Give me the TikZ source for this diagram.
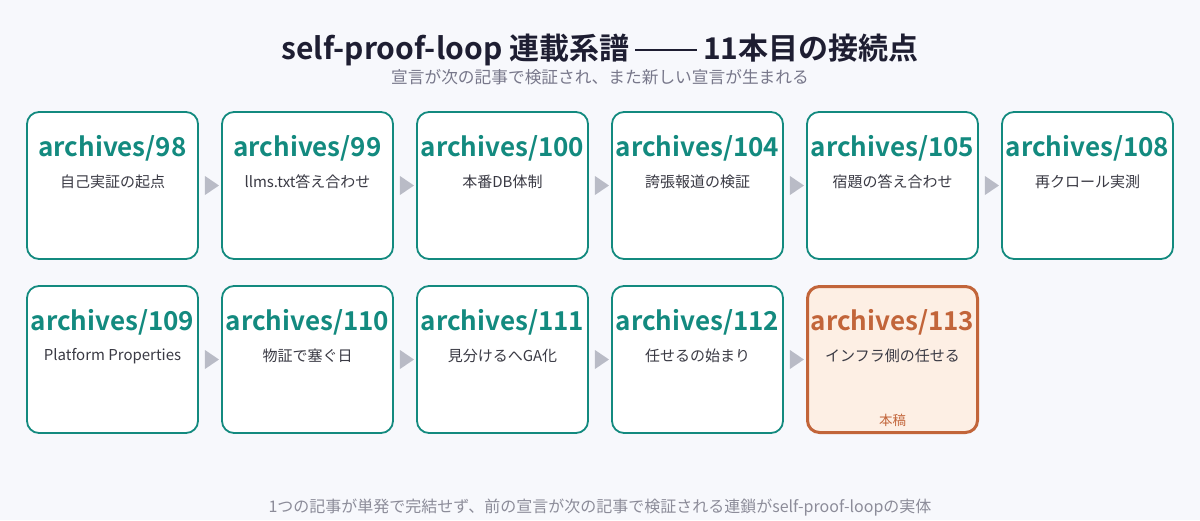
\documentclass[tikz,border=0pt]{standalone}
\usepackage{fontspec}
\setmainfont{Noto Sans CJK JP}[BoldFont={Noto Sans CJK JP Bold}]
\usetikzlibrary{shapes.geometric}
\definecolor{bg}{HTML}{F7F8FC}
\definecolor{teal}{HTML}{138A7F}
\definecolor{hot}{HTML}{C2653A}
\definecolor{hotfill}{HTML}{FDEFE4}
\definecolor{arrowgray}{HTML}{B9BBC6}
\definecolor{titlec}{HTML}{1E1E32}
\definecolor{subc}{HTML}{77778A}
\definecolor{bodyc}{HTML}{3A3A44}
\definecolor{footc}{HTML}{8C8C99}
\tikzset{
  card/.style={draw=teal, line width=1.8pt, fill=white, rounded corners=12pt, minimum width=171pt, minimum height=147pt, inner sep=0pt},
  hotcard/.style={card, draw=hot, line width=3pt, fill=hotfill, minimum width=170pt, minimum height=146pt},
  cardtitle/.style={font=\bfseries\fontsize{26}{30}\selectfont, text=teal, inner sep=0pt},
  hottitle/.style={cardtitle, text=hot},
  cardsub/.style={font=\fontsize{15}{18}\selectfont, text=bodyc, inner sep=0pt},
  tag/.style={font=\fontsize{13.5}{16}\selectfont, text=hot, inner sep=0pt},
  tri/.style={isosceles triangle, isosceles triangle apex angle=70, isosceles triangle stretches, fill=arrowgray, draw=none, inner sep=0pt, minimum height=14pt, minimum width=19pt, shape border rotate=0}
}
\begin{document}
\begin{tikzpicture}[x=1pt,y=-1pt]
\fill[bg] (0,0) rectangle (1200,520);
\useasboundingbox (0,0) rectangle (1200,520);
\node[font=\bfseries\fontsize{30}{34}\selectfont, text=titlec, inner sep=0pt] (title) at (600,50) {self-proof-loop 連載系譜\hspace{6pt}\raisebox{9pt}{\rule{62pt}{1.4pt}}\hspace{6pt}11本目の接続点};
\node[font=\fontsize{16.7}{20}\selectfont, text=subc, inner sep=0pt] (subtitle) at (600,77) {宣言が次の記事で検証され、また新しい宣言が生まれる};
% row 1
\foreach \i/\x/\num/\sub in {1/112.5/98/自己実証の起点, 2/307.5/99/llms.txt答え合わせ, 3/502.5/100/本番DB体制, 4/697.5/104/誇張報道の検証, 5/892.5/105/宿題の答え合わせ, 6/1087.5/108/再クロール実測}{
  \node[card] (c\i) at (\x,185.5) {};
  \node[cardtitle] (c\i t) at (\x,148) {archives/\num};
  \node[cardsub] (c\i s) at (\x,182) {\sub};
}
% row 2
\foreach \i/\x/\num/\sub in {7/112.5/109/Platform Properties, 8/307.5/110/物証で塞ぐ日, 9/502.5/111/見分けるへGA化, 10/697.5/112/任せるの始まり}{
  \node[card] (c\i) at (\x,359.5) {};
  \node[cardtitle] (c\i t) at (\x,322) {archives/\num};
  \node[cardsub] (c\i s) at (\x,356) {\sub};
}
\node[hotcard] (c11) at (892.5,359.5) {};
\node[hottitle] (c11t) at (892.5,322) {archives/113};
\node[cardsub] (c11s) at (892.5,356) {インフラ側の任せる};
\node[tag] (c11tag) at (892.5,420) {本稿};
% arrows
\foreach \a/\b in {1/2,2/3,3/4,4/5,5/6,7/8,8/9,9/10,10/11}{
  \path (c\a.east) -- (c\b.west) node[midway, tri] (t\a) {};
}
\node[font=\fontsize{16}{19}\selectfont, text=footc, inner sep=0pt] (footer) at (600,508) {1つの記事が単発で完結せず、前の宣言が次の記事で検証される連鎖がself-proof-loopの実体};
\end{tikzpicture}
\end{document}
